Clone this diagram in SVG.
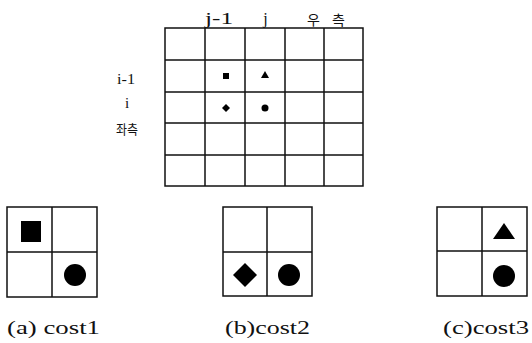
<svg xmlns="http://www.w3.org/2000/svg" width="532" height="343" viewBox="0 0 532 343">
<style>
.g{fill:none;stroke:#111;stroke-width:1.5}
.m{fill:#000}
.t{font-family:'Liberation Serif','DejaVu Serif',serif;fill:#111}
.k{font-family:'Noto Sans CJK KR',sans-serif;fill:#111}
</style>
<rect width="532" height="343" fill="#fff"/>
<g id="main-grid">
<rect class="g" x="165" y="28" width="198" height="158"/>
<path class="g" d="M205 28V186M245 28V186M285 28V186M324 28V186M165 60H363M165 92H363M165 123H363M165 155H363"/>
<text class="t" x="205" y="24" font-size="16" textLength="28" lengthAdjust="spacingAndGlyphs">j-1</text>
<text class="t" x="265.5" y="24" font-size="16" text-anchor="middle">j</text>
<text class="k" x="307" y="25" font-size="14" textLength="38" lengthAdjust="spacing">우 측</text>
<text class="t" x="117" y="84" font-size="15" textLength="18" lengthAdjust="spacingAndGlyphs">i-1</text>
<text class="t" x="127" y="108" font-size="15" text-anchor="middle">i</text>
<text class="k" x="116" y="134" font-size="13" textLength="22" lengthAdjust="spacingAndGlyphs">좌측</text>
<rect class="m" x="223" y="73" width="6" height="6"/>
<polygon class="m" points="265,71 269,78 261,78"/>
<polygon class="m" points="226,104 230,108 226,112 222,108"/>
<circle class="m" cx="265" cy="108" r="3.5"/>
</g>
<g id="cost1">
<rect class="g" x="7" y="207" width="90" height="90"/>
<path class="g" d="M52 207V297M7 252H97"/>
<rect class="m" x="21" y="221" width="20" height="21"/>
<circle class="m" cx="75" cy="275" r="11"/>
<text class="t" x="7" y="334" font-size="18" textLength="93" lengthAdjust="spacingAndGlyphs">(a) cost1</text>
</g>
<g id="cost2">
<rect class="g" x="223" y="207" width="89" height="89"/>
<path class="g" d="M267 207V296M223 252H312"/>
<polygon class="m" points="245,263 257,275 245,287 233,275"/>
<circle class="m" cx="289" cy="275" r="11"/>
<text class="t" x="225" y="334" font-size="18" textLength="85" lengthAdjust="spacingAndGlyphs">(b)cost2</text>
</g>
<g id="cost3">
<rect class="g" x="437" y="207" width="90" height="89"/>
<path class="g" d="M482 207V296M437 251H527"/>
<polygon class="m" points="504,223 515,239 493,239"/>
<circle class="m" cx="504" cy="276" r="11"/>
<text class="t" x="443" y="334" font-size="18" textLength="86" lengthAdjust="spacingAndGlyphs">(c)cost3</text>
</g>
</svg>
